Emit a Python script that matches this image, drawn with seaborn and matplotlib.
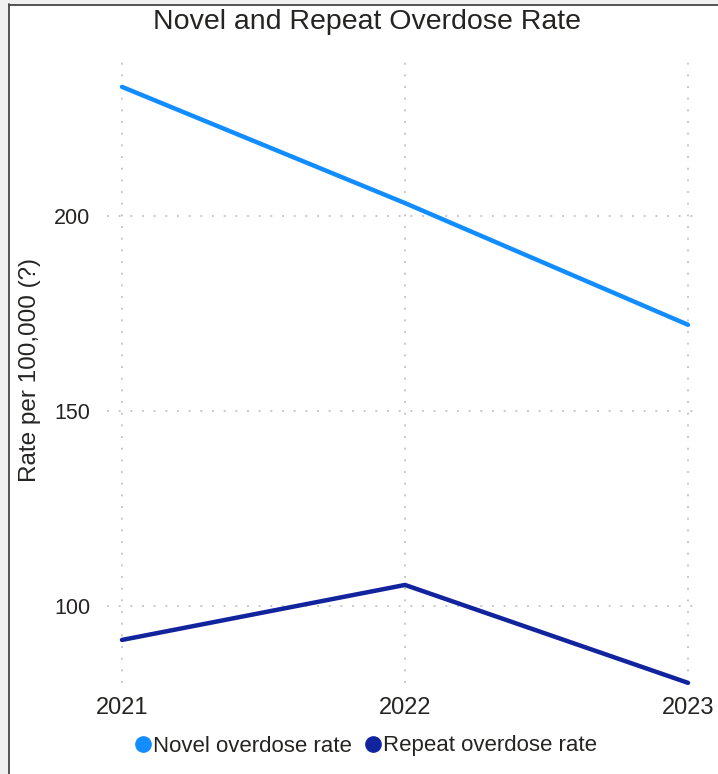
import matplotlib
matplotlib.use("Agg")
import matplotlib.pyplot as plt
from matplotlib.lines import Line2D
from matplotlib.patches import Rectangle
import pandas as pd
import seaborn as sns

years = [2021, 2022, 2023]
novel_rate = [233.1, 203.3, 172.1]
repeat_rate = [91.3, 105.4, 80.3]
series_names = ["Novel overdose rate", "Repeat overdose rate"]
series_colors = ["#118DFF", "#12239E"]
y_ticks = [100, 150, 200]

df = pd.DataFrame({
    "Year": years * 2,
    "Rate": novel_rate + repeat_rate,
    "Series": [series_names[0]] * len(years) + [series_names[1]] * len(years),
})

sns.set_theme(style="white")
plt.rcParams["font.family"] = ["Liberation Sans", "DejaVu Sans"]

fig = plt.figure(figsize=(7.18, 7.74), dpi=100)
fig.patch.set_facecolor("white")

# panel frame: grey margin with a dark edge on the left and top
fig.patches.append(Rectangle((0, 0), 8 / 718, 1, transform=fig.transFigure,
                             facecolor="#f0f0f0", edgecolor="none", zorder=0))
fig.patches.append(Rectangle((0, 1 - 4 / 774), 1, 4 / 774, transform=fig.transFigure,
                             facecolor="#f0f0f0", edgecolor="none", zorder=0))
fig.add_artist(Line2D([8.5 / 718, 8.5 / 718], [0, 1 - 4 / 774], transform=fig.transFigure,
                      color="#444444", lw=1.3))
fig.add_artist(Line2D([8.5 / 718, 1], [1 - 4.5 / 774, 1 - 4.5 / 774], transform=fig.transFigure,
                      color="#444444", lw=1.3))

ax = fig.add_axes([107 / 718, (774 - 683) / 774, 591 / 718, 625 / 774])

sns.lineplot(data=df, x="Year", y="Rate", hue="Series", palette=series_colors,
             linewidth=3.2, ax=ax, legend=False, clip_on=False)

ax.set_xlim(2021 - 15 / 283, 2023 + 10 / 283)
ax.set_ylim(80.26, 240.5)
ax.set_xticks(years)
ax.set_xticklabels([str(y) for y in years])
ax.set_yticks(y_ticks)

ax.grid(True, color="#c8c8c8", linestyle=(0, (1, 5)), linewidth=1.4)
ax.set_axisbelow(True)
for s in ax.spines.values():
    s.set_visible(False)

ax.tick_params(axis="x", labelsize=17, pad=10, length=0, colors="#252423")
ax.tick_params(axis="y", labelsize=15.5, pad=12, length=0, colors="#252423")
ax.set_xlabel("")
ax.set_ylabel("")
fig.text(30 / 718, 1 - 370 / 774, "Rate per 100,000 (?)", rotation=90, ha="center", va="center",
         fontsize=17.5, color="#252423")

fig.text(367 / 718, 1 - 22 / 774, "Novel and Repeat Overdose Rate", ha="center", va="center",
         fontsize=20.5, color="#252423")

handles = [Line2D([], [], marker="o", linestyle="none", markersize=11,
                  markerfacecolor=c, markeredgecolor=c) for c in series_colors]
fig.legend(handles, series_names, loc="center", bbox_to_anchor=(365 / 718, 1 - 746 / 774),
           ncol=2, frameon=False, fontsize=16, handletextpad=0.0, columnspacing=0.5,
           labelcolor="#252423", handlelength=0.9)

fig.savefig("out.png", dpi=100)
